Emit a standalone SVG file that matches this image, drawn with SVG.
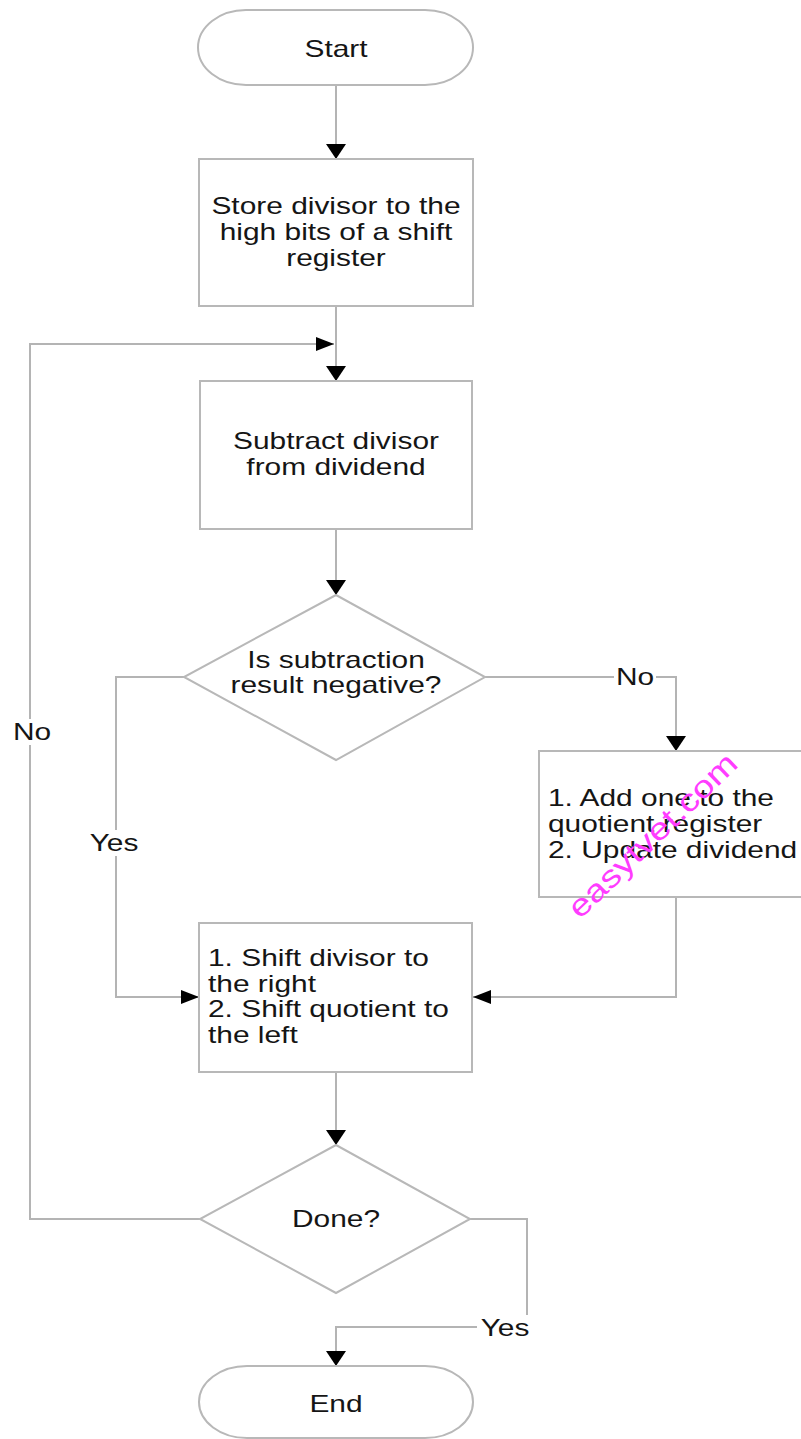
<svg xmlns="http://www.w3.org/2000/svg" width="801" height="1439" viewBox="0 0 801 1439">
<style>
.shape{fill:#ffffff;stroke:#b8b8b8;stroke-width:2}
.conn{fill:none;stroke:#b4b4b4;stroke-width:2}
.t{font-family:"Liberation Sans",Arial,sans-serif;font-size:23px;fill:#151515}
.c{text-anchor:middle}
.lbg{fill:#ffffff}
.wm{font-family:"Liberation Sans",Arial,sans-serif;font-size:31px;fill:#ff3cff}
</style>
<defs>
<marker id="arrV" viewBox="0 0 10 10" refX="10" refY="5" markerWidth="15" markerHeight="20" markerUnits="userSpaceOnUse" orient="auto" preserveAspectRatio="none"><path d="M0,0 L10,5 L0,10 z" fill="#000"/></marker>
<marker id="arrH" viewBox="0 0 10 10" refX="10" refY="5" markerWidth="18" markerHeight="14" markerUnits="userSpaceOnUse" orient="auto" preserveAspectRatio="none"><path d="M0,0 L10,5 L0,10 z" fill="#000"/></marker>
</defs>
<rect width="801" height="1439" fill="#ffffff"/>

<g id="connectors">
<path class="conn" d="M336,85 V159" marker-end="url(#arrV)"/>
<path class="conn" d="M336,306 V381" marker-end="url(#arrV)"/>
<path class="conn" d="M336,529 V595" marker-end="url(#arrV)"/>
<path class="conn" d="M485,677 H676 V751" marker-end="url(#arrV)"/>
<path class="conn" d="M184,677 H116 V997 H199" marker-end="url(#arrH)"/>
<path class="conn" d="M676,897 V997 H473" marker-end="url(#arrH)"/>
<path class="conn" d="M336,1072 V1145" marker-end="url(#arrV)"/>
<path class="conn" d="M200,1219 H30 V344 H334" marker-end="url(#arrH)"/>
<path class="conn" d="M470,1219 H527 V1327 H336 V1366" marker-end="url(#arrV)"/>
<g id="label-no-right">
<rect class="lbg" x="614" y="664" width="42" height="26"/>
<text class="t c" transform="translate(635 0) scale(1.3 1)" x="0" y="685">No</text>
</g>
<g id="label-yes-left">
<rect class="lbg" x="86" y="830" width="56" height="26"/>
<text class="t c" transform="translate(114 0) scale(1.3 1)" x="0" y="851">Yes</text>
</g>
<g id="label-no-left">
<rect class="lbg" x="11" y="719" width="43" height="26"/>
<text class="t c" transform="translate(32 0) scale(1.3 1)" x="0" y="740">No</text>
</g>
<g id="label-yes-bottom">
<rect class="lbg" x="477" y="1315" width="56" height="26"/>
<text class="t c" transform="translate(505 0) scale(1.3 1)" x="0" y="1336">Yes</text>
</g>
</g>

<g id="start">
<rect class="shape" x="198" y="10" width="275" height="75" rx="48" ry="37.5"/>
<text class="t c" transform="translate(336 0) scale(1.3 1)" x="0" y="57">Start</text>
</g>

<g id="store">
<rect class="shape" x="199" y="159" width="274" height="147"/>
<g transform="translate(336 0) scale(1.3 1)">
<text class="t c" x="0" y="214">Store divisor to the</text>
<text class="t c" x="0" y="240">high bits of a shift</text>
<text class="t c" x="0" y="266">register</text>
</g>
</g>

<g id="subtract">
<rect class="shape" x="200" y="381" width="272" height="148"/>
<g transform="translate(336 0) scale(1.3 1)">
<text class="t c" x="0" y="449">Subtract divisor</text>
<text class="t c" x="0" y="475">from dividend</text>
</g>
</g>

<g id="negative">
<polygon class="shape" points="336,595 485,677 336,760 184,677"/>
<g transform="translate(336 0) scale(1.3 1)">
<text class="t c" x="0" y="668">Is subtraction</text>
<text class="t c" x="0" y="693">result negative?</text>
</g>
</g>

<g id="addone">
<rect class="shape" x="539" y="751" width="263" height="146"/>
<g transform="translate(548 0) scale(1.3 1)">
<text class="t" x="0" y="806">1. Add one to the</text>
<text class="t" x="0" y="832">quotient register</text>
<text class="t" x="0" y="858">2. Update dividend</text>
</g>
</g>

<g id="shift">
<rect class="shape" x="199" y="923" width="273" height="149"/>
<g transform="translate(208 0) scale(1.3 1)">
<text class="t" x="0" y="966">1. Shift divisor to</text>
<text class="t" x="0" y="992">the right</text>
<text class="t" x="0" y="1017">2. Shift quotient to</text>
<text class="t" x="0" y="1043">the left</text>
</g>
</g>

<g id="done">
<polygon class="shape" points="336,1145 470,1219 336,1293 200,1219"/>
<text class="t c" transform="translate(336 0) scale(1.3 1)" x="0" y="1227">Done?</text>
</g>

<g id="end">
<rect class="shape" x="199" y="1366" width="274" height="72" rx="48" ry="36"/>
<text class="t c" transform="translate(336 0) scale(1.3 1)" x="0" y="1412">End</text>
</g>

<g id="watermark">
<text class="wm" transform="translate(580 920) rotate(-44)" x="0" y="0" textLength="222" lengthAdjust="spacingAndGlyphs">easytvet.com</text>
</g>
</svg>
